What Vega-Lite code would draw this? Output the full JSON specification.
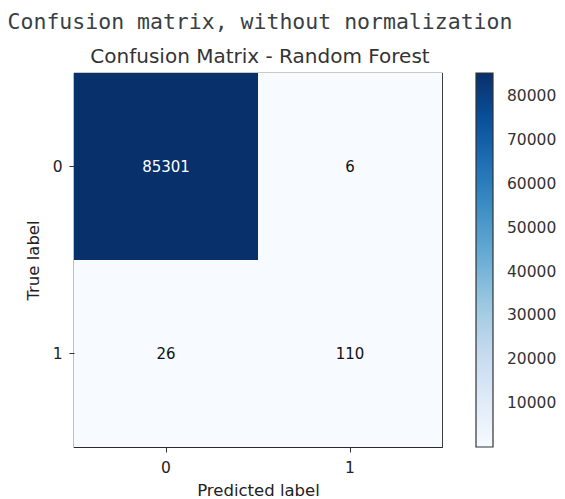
{
  "$schema": "https://vega.github.io/schema/vega-lite/v6.json",
  "autosize": {"type": "none"},
  "padding": {"left": 74, "top": 73, "right": 123, "bottom": 52},
  "width": 368,
  "height": 374,
  "background": "white",
  "title": {
    "text": "Confusion matrix, without normalization",
    "subtitle": "Confusion Matrix - Random Forest",
    "font": "DejaVu Sans Mono",
    "fontSize": 21.5,
    "fontWeight": "normal",
    "color": "#3a3f44",
    "subtitleFont": "DejaVu Sans",
    "subtitleFontSize": 20,
    "subtitleColor": "#333333",
    "subtitlePadding": 14,
    "anchor": "middle",
    "dx": 2,
    "offset": 6
  },
  "data": {
    "values": [
      {"true": "0", "pred": "0", "count": 85301},
      {"true": "0", "pred": "1", "count": 6},
      {"true": "1", "pred": "0", "count": 26},
      {"true": "1", "pred": "1", "count": 110}
    ]
  },
  "encoding": {
    "x": {
      "field": "pred",
      "type": "ordinal",
      "scale": {"paddingInner": 0, "paddingOuter": 0},
      "axis": {"title": "Predicted label", "labelAngle": 0, "labelPadding": 8, "titlePadding": 7}
    },
    "y": {
      "field": "true",
      "type": "ordinal",
      "scale": {"paddingInner": 0, "paddingOuter": 0},
      "axis": {"title": "True label", "labelPadding": 7, "titlePadding": 11}
    }
  },
  "layer": [
    {
      "mark": {"type": "rect"},
      "encoding": {
        "color": {
          "field": "count",
          "type": "quantitative",
          "scale": {
            "domain": [6, 10667.875, 21329.75, 31991.625, 42653.5, 53315.375, 63977.25, 74639.125, 85301],
            "range": ["#f7fbff", "#deebf7", "#c6dbef", "#9ecae1", "#6baed6", "#4292c6", "#2171b5", "#08519c", "#08306b"]
          },
          "legend": {
            "title": null,
            "orient": "right",
            "offset": 34,
            "padding": 0,
            "direction": "vertical",
            "format": "d",
            "gradientLength": 374,
            "gradientThickness": 17,
            "gradientStrokeColor": "#333333",
            "gradientStrokeWidth": 1.2,
            "labelFont": "DejaVu Sans",
            "labelFontSize": 15.5,
            "labelColor": "#333333",
            "labelOffset": 14,
            "labelOverlap": false,
            "values": [10000, 20000, 30000, 40000, 50000, 60000, 70000, 80000]
          }
        }
      }
    },
    {
      "mark": {"type": "text", "font": "DejaVu Sans", "fontSize": 15},
      "encoding": {
        "text": {"field": "count", "type": "nominal"},
        "color": {
          "condition": {"test": "datum.count > 42000", "value": "#ffffff"},
          "value": "#111111"
        }
      }
    }
  ],
  "config": {
    "view": {"stroke": "#2a2a2a", "strokeWidth": 1.2},
    "axis": {
      "domain": false,
      "ticks": true,
      "tickSize": 5,
      "tickColor": "#333333",
      "labelFont": "DejaVu Sans",
      "labelFontSize": 15.5,
      "labelColor": "#222222",
      "titleFont": "DejaVu Sans",
      "titleFontSize": 16.5,
      "titleFontWeight": "normal",
      "titleColor": "#222222",
      "grid": false
    }
  }
}
